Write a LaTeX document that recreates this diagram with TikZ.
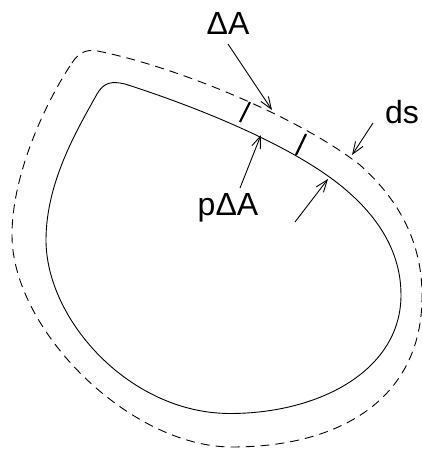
\documentclass[tikz,border=0pt]{standalone}
\usepackage{fontspec}
\setmainfont{Liberation Sans}
\usetikzlibrary{arrows.meta}
\begin{document}
\begin{tikzpicture}[x=1pt,y=-1pt,
  outline/.style={line width=0.9pt},
  dashline/.style={line width=0.9pt,dash pattern=on 9pt off 6pt},
  tickmark/.style={line width=2.2pt},
  pointer/.style={line width=0.9pt,-{Straight Barb[length=12pt,width=9pt,line width=0.9pt]}},
  lbl/.style={font=\fontsize{32}{34}\selectfont,inner sep=0pt}]
\useasboundingbox (0,0) rectangle (422,451);
% inner surface
\draw[outline] (97,94) .. controls (104,82) and (112,81) .. (125,84)
  .. controls (200,108) and (290,145) .. (340,185)
  .. controls (390,225) and (401,265) .. (401,295)
  .. controls (401,370) and (320,413.5) .. (230,413.5)
  .. controls (130,413.5) and (46,320) .. (46,240)
  .. controls (46,180) and (80,125) .. (97,94) -- cycle;
% outer dashed surface
\draw[dashline] (72,63) .. controls (80,50) and (90,49) .. (100,51.5)
  .. controls (180,68) and (300,118) .. (360,165)
  .. controls (405,205) and (422,250) .. (422,295)
  .. controls (423,395) and (345,447) .. (232,447)
  .. controls (130,447) and (12,330) .. (12,235)
  .. controls (12,170) and (50,95) .. (72,63) -- cycle;
% element ticks
\coordinate (t1a) at (240,122); \coordinate (t1b) at (250,102);
\coordinate (t2a) at (296,155); \coordinate (t2b) at (306,134);
\draw[tickmark] (t1a) -- (t1b);
\draw[tickmark] (t2a) -- (t2b);
% labels
\node[lbl] (dA) at (228,23) {ΔA};
\node[lbl] (ds) at (402,112) {ds};
\node[lbl] (pdA) at (228,208) {pΔA};
% arrows
\coordinate (dAs) at (228,44); \coordinate (dAe) at (272,110);
\coordinate (dss) at (373,123); \coordinate (dse) at (352,155);
\coordinate (ps) at (240,188); \coordinate (pe) at (261,135);
\coordinate (qs) at (295,222); \coordinate (qe) at (328,179);
\draw[pointer] (dAs) -- (dAe);
\draw[pointer] (dss) -- (dse);
\draw[pointer] (ps) -- (pe);
\draw[pointer] (qs) -- (qe);
\end{tikzpicture}
\end{document}
